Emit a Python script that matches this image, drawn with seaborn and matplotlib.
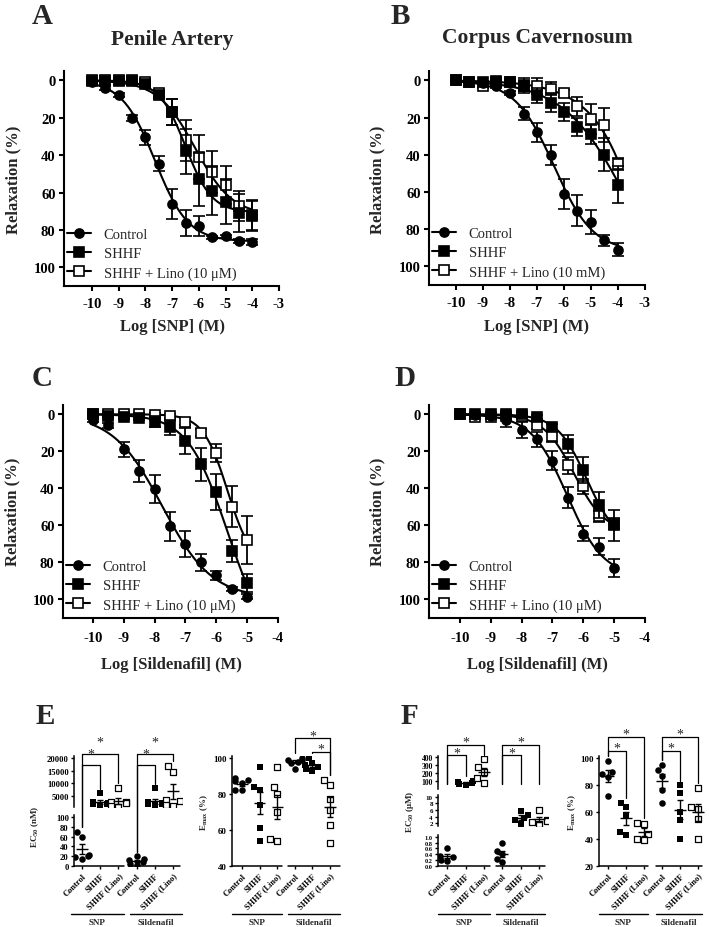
import numpy as np
import pandas as pd
import matplotlib
matplotlib.use("Agg")
import matplotlib.pyplot as plt
from matplotlib.lines import Line2D
from matplotlib.font_manager import FontProperties
import seaborn as sns

# ---------------- data: concentration-response curves (mean, SEM) ----------------
log_snp = [-10, -9.5, -9, -8.5, -8, -7.5, -7, -6.5, -6, -5.5, -5, -4.5, -4]
log_sild = [-10, -9.5, -9, -8.5, -8, -7.5, -7, -6.5, -6, -5.5, -5]

# A: Penile artery, SNP
a_control = [1, 4, 8, 20, 30.5, 44.5, 66, 76.5, 78, 84, 83.5, 86, 86.5]
a_control_sem = [0.5, 1, 1, 1.5, 4, 4.2, 8, 7, 5.5, 1, 1, 1, 1.5]
a_shhf = [0.5, 0.5, 0.5, 0.5, 2, 8, 17, 38, 53, 59, 65, 71, 72.5]
a_shhf_sem = [0.5, 0.5, 0.5, 0.5, 1, 2, 7, 12, 14, 13, 12, 10, 8]
a_lino = [0, 0, 0, 0, 1, 7, 17, 32, 41, 49, 56, 67, 72]
a_lino_sem = [0.5, 0.5, 0.5, 0.5, 1, 2, 7, 11, 12, 11, 10, 8, 8]

# B: Corpus cavernosum, SNP
b_control = [0, 1, 1.5, 3, 7, 18, 28, 40, 61, 70, 76, 86, 91]
b_control_sem = [0.5, 0.5, 0.5, 1, 1, 3.5, 5, 5.5, 8, 8.5, 6.5, 3, 3.5]
b_shhf = [0, 1, 1, 0.5, 1, 3, 8, 12, 17, 25, 29, 40, 56]
b_shhf_sem = [0.5, 0.5, 0.5, 0.5, 1, 4, 4, 5, 5, 5, 5, 9, 10]
b_lino = [0, 1, 3, 1, 1, 3, 3, 4.5, 7, 14, 21, 24, 45]
b_lino_sem = [0.5, 0.5, 1, 0.5, 1, 3, 4.5, 3.5, 2, 5, 8, 9, 3]

# C: Penile artery, sildenafil
c_control = [3, 6, 19, 30.5, 40.5, 60.5, 70, 80, 87, 94.5, 98.5]
c_control_sem = [1, 1.5, 4, 6, 7.5, 8, 7, 4.5, 2.5, 1, 1.5]
c_shhf = [0, 1, 1.5, 2, 4, 7, 14.5, 27, 42, 74, 91]
c_shhf_sem = [0.5, 0.5, 1, 1, 3, 4, 7, 9, 9.5, 6, 5]
c_lino = [0, 0, 0, 0, 0.5, 1, 4, 10, 21, 50, 68]
c_lino_sem = [0.5, 0.5, 0.5, 0.5, 1, 1, 2, 2, 5, 11, 13]

# D: Corpus cavernosum, sildenafil
d_control = [0, 0.5, 1, 3, 8.5, 13.5, 25, 45, 64.5, 71.5, 83]
d_control_sem = [0.5, 0.5, 1, 4, 4.5, 4, 5, 5.5, 4, 4.5, 5]
d_shhf = [0, 0, 0, 0, 0, 1.5, 7, 16, 30, 49, 60]
d_shhf_sem = [0.5, 0.5, 0.5, 0.5, 0.5, 1, 1.5, 5, 7, 7, 8.5]
d_lino = [0, 1.5, 1.5, 1, 1, 6, 12, 27.5, 39, 55, 59]
d_lino_sem = [0.5, 1, 1, 1, 1, 2, 3, 4.5, 4, 3, 3]

legend_um = ["Control", "SHHF", "SHHF + Lino (10 \u03bcM)"]
legend_mm = ["Control", "SHHF", "SHHF + Lino (10 mM)"]
curve_yticks = [0, 20, 40, 60, 80, 100]

# ---------------- data: individual EC50 / Emax values ----------------
conditions = ["Control", "SHHF", "SHHF (Lino)"]
agonists = ["SNP", "Sildenafil"]

# E: penile artery (n = 6)
e_ec50_snp_control = [70, 60, 22, 18, 15, 20]
e_ec50_snp_shhf = [6000, 2500, 2000, 1800, 2200, 1500]
e_ec50_snp_lino = [8200, 2800, 2700, 2300, 900, 800]
e_ec50_sild_control = [20, 15, 12, 8, 5, 3]
e_ec50_sild_shhf = [8000, 2500, 2200, 2000, 1800, 1500]
e_ec50_sild_lino = [17000, 14500, 3500, 3000, 1500, 1200]

e_emax_snp_control = [88, 89, 87, 86, 82, 82]
e_emax_snp_shhf = [95, 84, 82, 74, 61, 54]
e_emax_snp_lino = [95, 84, 80, 70, 54, 55]
e_emax_sild_control = [100, 99, 99, 98, 97, 94]
e_emax_sild_shhf = [100, 97, 95, 94, 93, 96]
e_emax_sild_lino = [88, 85, 77, 71, 63, 53]

# F: corpus cavernosum (n = 5)
f_ec50_snp_control = [0.63, 0.35, 0.3, 0.22, 0.18]
f_ec50_snp_shhf = [105, 90, 75, 60, 45]
f_ec50_snp_lino = [370, 280, 210, 135, 80]
f_ec50_sild_control = [0.77, 0.52, 0.4, 0.25, 0.12]
f_ec50_sild_shhf = [5.6, 4.6, 3.6, 3.0, 1.8]
f_ec50_sild_lino = [6.0, 3.0, 2.8, 2.3, 1.8]

f_emax_snp_control = [98, 90, 88, 86, 72]
f_emax_snp_shhf = [67, 64, 58, 45, 43]
f_emax_snp_lino = [52, 51, 44, 40, 39]
f_emax_sild_control = [95, 91, 87, 76, 67]
f_emax_sild_shhf = [80, 74, 60, 54, 40]
f_emax_sild_lino = [78, 64, 62, 55, 40]

# ---------------- style ----------------
sns.set_style("ticks")
plt.rcParams.update({
    "font.family": ["Liberation Serif", "DejaVu Serif"],
    "font.weight": "bold",
    "axes.labelweight": "bold",
    "axes.edgecolor": "black",
    "xtick.color": "black",
    "ytick.color": "black",
    "mathtext.fontset": "custom",
    "mathtext.rm": "Liberation Serif:bold",
    "mathtext.it": "Liberation Serif:italic:bold",
    "mathtext.bf": "Liberation Serif:bold",
})

W, H = 709, 928
fig = plt.figure(figsize=(W / 100, H / 100), dpi=100)
fig.patch.set_facecolor("white")


def add_ax(l, t, r, b):
    return fig.add_axes([l / W, 1 - b / H, (r - l) / W, (b - t) / H])


def ftext(x, y, s, size, weight="bold", **kw):
    kw.setdefault("ha", "center")
    kw.setdefault("va", "center")
    fig.text(x / W, 1 - y / H, s, fontsize=size, fontweight=weight, **kw)


def fit_hill(x, y):
    """Least-squares fit of a Hill curve (bottom fixed at 0) by grid search."""
    x = np.asarray(x, float)
    y = np.asarray(y, float)
    c = np.arange(-11.5, -1.0, 0.01)[:, None, None]
    h = np.arange(0.3, 3.0, 0.02)[None, :, None]
    f = 1.0 / (1.0 + 10.0 ** ((c - x) * h))
    top = (f * y).sum(-1) / (f * f).sum(-1)
    sse = ((top[..., None] * f - y) ** 2).sum(-1)
    i, j = np.unravel_index(np.argmin(sse), sse.shape)
    return float(c[i, 0, 0]), float(h[0, j, 0]), float(top[i, j])


curve_styles = [("o", "black", 6.5, 5), ("s", "black", 6.5, 4), ("s", "white", 6.5, 3)]


def curve_panel(ax, xv, series, labels, xlim, xticks, xpad):
    for (y, e), (mk, fc, ms, z) in zip(series, curve_styles):
        c, h, top = fit_hill(xv, y)
        xs = np.linspace(min(xv), max(xv), 200)
        ys = top / (1.0 + 10.0 ** ((c - xs) * h))
        sns.lineplot(x=xs, y=ys, ax=ax, color="black", linewidth=1.5, zorder=z, legend=False)
        ax.errorbar(xv, y, yerr=e, fmt=mk, ms=ms, mfc=fc, mec="black", mew=1.2,
                    ecolor="black", elinewidth=1.3, capsize=4.5, capthick=1.3, zorder=z)
    ax.set_xlim(*xlim)
    ax.set_ylim(110, -5)
    ax.set_xticks(xticks)
    ax.set_xticklabels([str(t) for t in xticks])
    ax.set_yticks(curve_yticks)
    ax.set_yticklabels([str(v) for v in curve_yticks])
    ax.set_xlabel("")
    ax.set_ylabel("")
    sns.despine(ax=ax)
    for sp in ("left", "bottom"):
        ax.spines[sp].set_linewidth(1.5)
    ax.tick_params(length=3.6, width=1.5, labelsize=10.5)
    ax.tick_params(axis="x", pad=xpad)
    ax.tick_params(axis="y", pad=2.5)
    handles = [Line2D([], [], color="black", lw=1.5, marker=mk, ms=ms, mfc=fc, mec="black", mew=1.2)
               for (mk, fc, ms, z) in curve_styles]
    ax.legend(handles, labels, loc="lower left", bbox_to_anchor=(0.015, 0.03), frameon=False,
              prop=FontProperties(family="Liberation Serif", size=10.5, weight="normal"),
              handlelength=1.6, handletextpad=0.9, labelspacing=0.42, borderpad=0,
              borderaxespad=0, numpoints=1)


# ---------------- panels A-D ----------------
axA = add_ax(64, 72, 279, 287)
curve_panel(axA, log_snp, [(a_control, a_control_sem), (a_shhf, a_shhf_sem), (a_lino, a_lino_sem)],
            legend_um, (-11.05, -3), list(range(-10, -2)), 4)
axB = add_ax(429, 72, 645, 286)
curve_panel(axB, log_snp, [(b_control, b_control_sem), (b_shhf, b_shhf_sem), (b_lino, b_lino_sem)],
            legend_mm, (-11.0, -3), list(range(-10, -2)), 4)
axC = add_ax(63, 406, 278, 619)
curve_panel(axC, log_sild, [(c_control, c_control_sem), (c_shhf, c_shhf_sem), (c_lino, c_lino_sem)],
            legend_um, (-10.97, -4), list(range(-10, -3)), 6)
axD = add_ax(429, 406, 645, 619)
curve_panel(axD, log_sild, [(d_control, d_control_sem), (d_shhf, d_shhf_sem), (d_lino, d_lino_sem)],
            legend_um, (-11.0, -4), list(range(-10, -3)), 6)

ftext(42, 16, "A", 21)
ftext(400, 16, "B", 21)
ftext(42, 379, "C", 21)
ftext(405, 379, "D", 21)
ftext(172, 40, "Penile Artery", 15.5)
ftext(537, 38, "Corpus Cavernosum", 15.5)
for x, y in [(13, 180), (377, 180), (12, 512), (377, 512)]:
    ftext(x, y, "Relaxation (%)", 12, rotation=90)
ftext(172, 327, "Log [SNP] (M)", 12)
ftext(537, 327, "Log [SNP] (M)", 12)
ftext(171, 665, "Log [Sildenafil] (M)", 12)
ftext(537, 665, "Log [Sildenafil] (M)", 12)

# ---------------- panels E-F ----------------
dot_styles = [dict(marker="o", color="black", size=4.7, linewidth=0),
              dict(marker="s", color="black", size=4.7, linewidth=0),
              dict(marker="s", color="white", edgecolor="black", size=4.7, linewidth=0.9)]


def draw_dots(ax, vals6, vrange):
    lo, hi = vrange
    for i, v6 in enumerate(vals6):
        ys = [float(v) for v in v6 if lo <= v <= hi]
        if ys:
            sns.swarmplot(x=np.full(len(ys), float(i)), y=np.array(ys), native_scale=True,
                          orient="x", ax=ax, warn_thresh=1, zorder=3, **dot_styles[i % 3])
    for i, v in enumerate(vals6):
        m = float(np.mean(v))
        s = float(np.std(v, ddof=1) / np.sqrt(len(v)))
        if not (lo <= m <= hi):
            continue
        ax.hlines(m, i - 0.32, i + 0.32, color="black", lw=1.0, zorder=5)
        ax.errorbar([i], [m], yerr=[s], fmt="none", ecolor="black", elinewidth=1.0,
                    capsize=2.3, capthick=1.0, zorder=5)


def setup_dot_ax(ax, xlim, ylim, yticks, ylabels, bottom, segs=None, ysize=6.5):
    ax.set_xlim(*xlim)
    ax.set_ylim(*ylim)
    ax.set_yticks(yticks)
    ax.set_yticklabels(ylabels)
    ax.set_xlabel("")
    ax.set_ylabel("")
    for sp in ("top", "right", "bottom"):
        ax.spines[sp].set_visible(False)
    ax.spines["left"].set_linewidth(1.1)
    ax.tick_params(axis="y", length=2.5, width=1.0, labelsize=ysize, pad=1.2)
    if bottom:
        ax.set_xticks(range(6))
        ax.set_xticklabels(conditions * 2, rotation=45, ha="right", rotation_mode="anchor", fontsize=6)
        ax.tick_params(axis="x", length=2.5, width=1.0, pad=1.5)
        for seg in segs:
            ax.add_line(Line2D(seg, [0, 0], transform=ax.get_xaxis_transform(), color="black",
                               lw=1.1, clip_on=False))
    else:
        ax.tick_params(axis="x", bottom=False, labelbottom=False)


def px(ax, x, y):
    dx, dy = ax.transData.transform((x, y))
    return dx, H - dy


def bracket(axes, vals6, i1, i2, ybar, ystar):
    x1 = px(axes[0], i1, axes[0].get_ylim()[0])[0]
    x2 = px(axes[0], i2, axes[0].get_ylim()[0])[0]

    def leg_end(i):
        v = max(vals6[i])
        for a in axes:
            lo, hi = a.get_ylim()
            if lo <= v <= hi:
                return px(a, i, v)[1] - 4.5
        return ybar + 8

    y1, y2 = leg_end(i1), leg_end(i2)
    fig.add_artist(Line2D([x1 / W, x1 / W, x2 / W, x2 / W],
                          [1 - y1 / H, 1 - ybar / H, 1 - ybar / H, 1 - y2 / H],
                          transform=fig.transFigure, color="black", lw=0.9))
    fig.text((x1 + x2) / 2 / W, 1 - (ystar + 3) / H, "*", ha="center", va="center",
             fontsize=10, fontweight="normal")


def group_labels(ax, segs, y_line=915, y_text=923):
    for (x0, x1), name in zip(segs, agonists):
        p0 = px(ax, x0, ax.get_ylim()[0])[0]
        p1 = px(ax, x1, ax.get_ylim()[0])[0]
        fig.add_artist(Line2D([p0 / W, p1 / W], [1 - y_line / H] * 2, transform=fig.transFigure,
                              color="black", lw=1.0))
        ftext((p0 + p1) / 2, y_text, name, 6.5)


def dot_panel(rects, ylims, vranges, ticks, labels, vals6, xlim, segs, ysizes=None):
    axes = []
    for n, (r, yl, vr, tk, lb) in enumerate(zip(rects, ylims, vranges, ticks, labels)):
        ax = add_ax(*r)
        ax.set_xlim(*xlim)
        ax.set_ylim(*yl)
        draw_dots(ax, vals6, vr)
        ys = ysizes[n] if ysizes else 6.5
        setup_dot_ax(ax, xlim, yl, tk, lb, n == len(rects) - 1, segs, ys)
        axes.append(ax)
    return axes


# E left: EC50 (nM), broken y axis
e_ec50 = [e_ec50_snp_control, e_ec50_snp_shhf, e_ec50_snp_lino,
          e_ec50_sild_control, e_ec50_sild_shhf, e_ec50_sild_lino]
e_ec50_segs = [(-0.44, 2.3), (2.63, 5.4)]
axes_e1 = dot_panel([(74, 757, 182, 808), (74, 816, 182, 867)],
                    [(657, 20790), (0, 104)],
                    [(500, 21000), (0, 110)],
                    [[5000, 10000, 15000, 20000], [0, 20, 40, 60, 80, 100]],
                    [["5000", "10000", "15000", "20000"], ["0", "20", "40", "60", "80", "100"]],
                    e_ec50, (-0.44, 5.49), e_ec50_segs, ysizes=[6.2, 6.2])
for g in (0, 3):
    bracket(axes_e1, e_ec50, g, g + 2, 755, 740)
    bracket(axes_e1, e_ec50, g, g + 1, 766, 752)
group_labels(axes_e1[-1], [(-0.6, 2.3), (2.63, 5.5)])

# E right: Emax (%)
e_emax = [e_emax_snp_control, e_emax_snp_shhf, e_emax_snp_lino,
          e_emax_sild_control, e_emax_sild_shhf, e_emax_sild_lino]
e_emax_segs = [(-0.57, 2.27), (2.61, 5.57)]
axes_e2 = dot_panel([(232, 757, 342, 867)], [(40, 101.1)], [(30, 110)], [[40, 60, 80, 100]],
                    [["40", "60", "80", "100"]], e_emax, (-0.57, 5.68), e_emax_segs)
bracket(axes_e2, e_emax, 3, 5, 739, 734)
bracket(axes_e2, e_emax, 4, 5, 753, 747)
group_labels(axes_e2[-1], e_emax_segs)

# F left: EC50 (uM), two breaks
f_ec50 = [f_ec50_snp_control, f_ec50_snp_shhf, f_ec50_snp_lino,
          f_ec50_sild_control, f_ec50_sild_shhf, f_ec50_sild_lino]
f_ec50_segs = [(-0.51, 2.31), (2.67, 5.3)]
axes_f1 = dot_panel([(438, 757, 548, 790), (438, 796, 548, 827), (438, 836, 548, 867)],
                    [(0, 412.5), (1.19, 10.51), (0, 1.059)],
                    [(20, 450), (1.0, 12), (0, 1.0)],
                    [[100, 200, 300, 400], [2, 4, 6, 8, 10], [0, 0.2, 0.4, 0.6, 0.8, 1.0]],
                    [["100", "200", "300", "400"], ["2", "4", "6", "8", "10"],
                     ["0.0", "0.2", "0.4", "0.6", "0.8", "1.0"]],
                    f_ec50, (-0.51, 5.48), f_ec50_segs, ysizes=[5.5, 5.0, 4.6])
for g in (0, 3):
    bracket(axes_f1, f_ec50, g, g + 2, 745.7, 740)
    bracket(axes_f1, f_ec50, g, g + 1, 755.7, 750.7)
group_labels(axes_f1[-1], f_ec50_segs)

# F right: Emax (%)
f_emax = [f_emax_snp_control, f_emax_snp_shhf, f_emax_snp_lino,
          f_emax_sild_control, f_emax_sild_shhf, f_emax_sild_lino]
f_emax_segs = [(-0.5, 2.22), (2.67, 5.22)]
axes_f2 = dot_panel([(599, 757, 705, 867)], [(20, 101.5)], [(10, 110)], [[20, 40, 60, 80, 100]],
                    [["20", "40", "60", "80", "100"]], f_emax, (-0.5, 5.39), f_emax_segs)
for g in (0, 3):
    bracket(axes_f2, f_emax, g, g + 2, 738, 732)
    bracket(axes_f2, f_emax, g, g + 1, 752, 746)
group_labels(axes_f2[-1], f_emax_segs)

ftext(45, 717, "E", 21)
ftext(409, 717, "F", 21)
ftext(35, 827, r"EC$_{50}$ (nM)", 6.5, rotation=90)
ftext(204, 813, r"E$_{\mathrm{max}}$ (%)", 6.5, rotation=90)
ftext(410, 812, "EC$_{50}$ (\u03bcM)", 6.5, rotation=90)
ftext(572, 813, r"E$_{\mathrm{max}}$ (%)", 6.5, rotation=90)

fig.savefig("out.png", dpi=100, facecolor="white")
